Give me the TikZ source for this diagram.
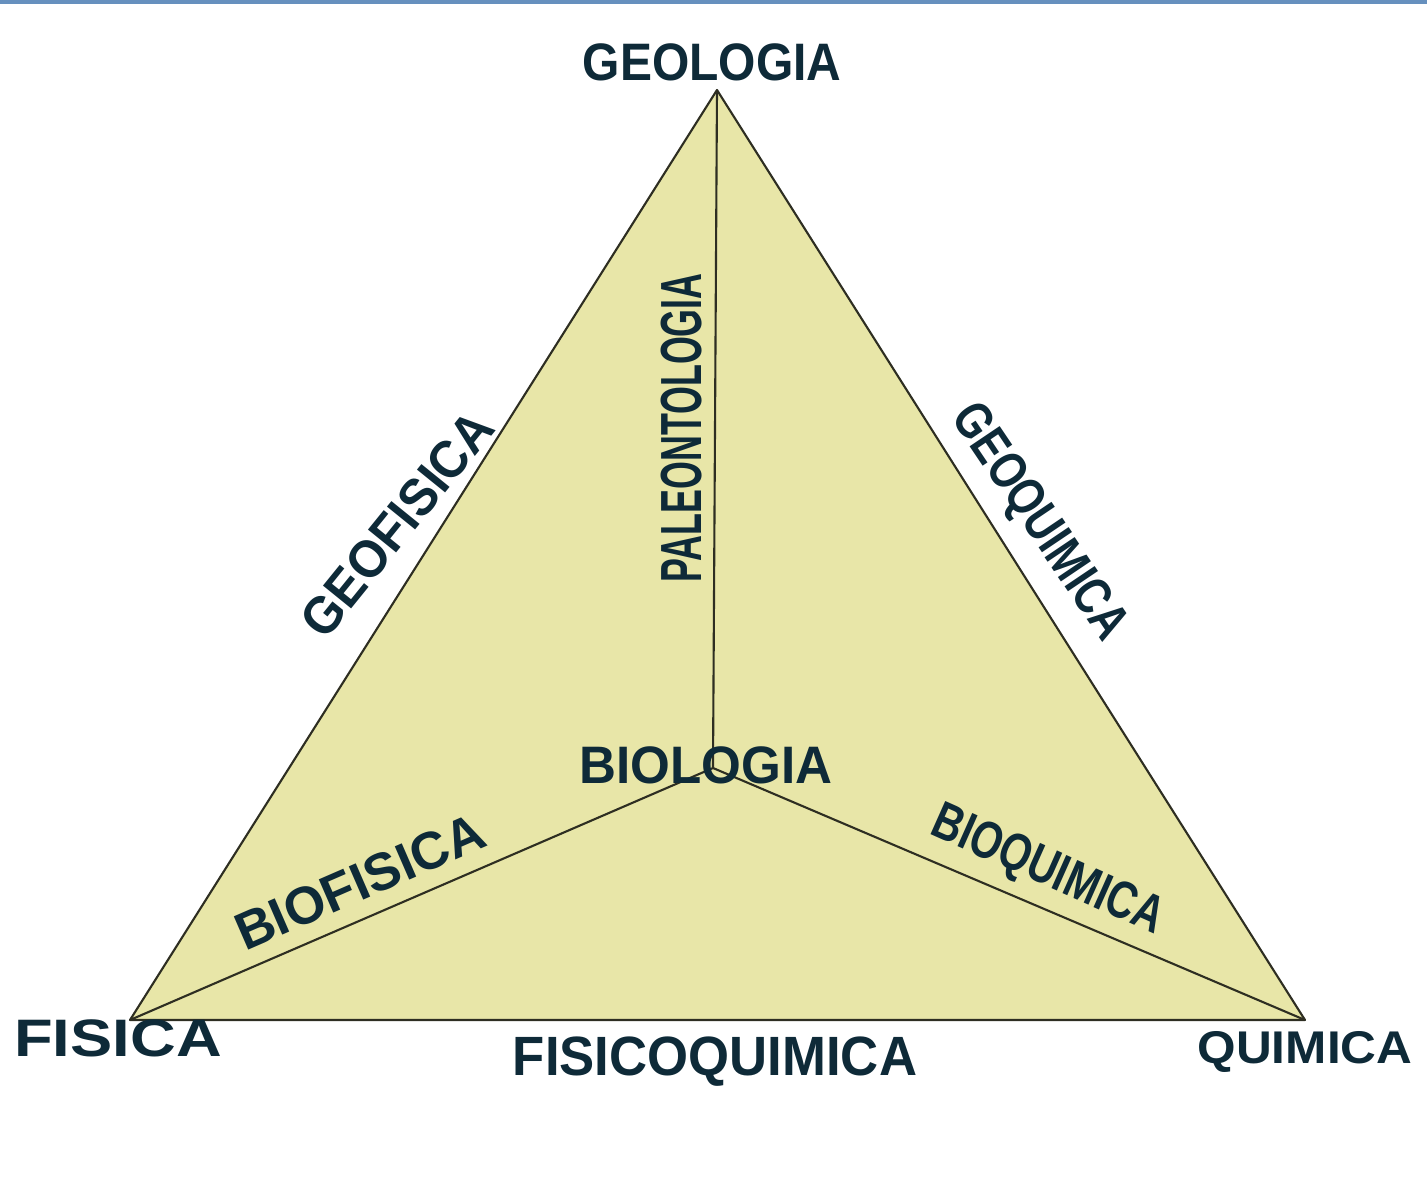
\documentclass[tikz,border=0pt]{standalone}
\usepackage{fontspec}
\setmainfont{Liberation Sans}
\usepackage{graphicx}
\definecolor{barblue}{HTML}{6690BE}
\definecolor{paleyellow}{HTML}{E8E6A8}
\definecolor{inkblue}{HTML}{0E2A38}
\definecolor{edgegray}{HTML}{2E2E22}
\tikzset{
  lbl/.style={text=inkblue, inner sep=0pt, font=\fontsize{15}{18}\selectfont\bfseries},
  edge/.style={draw=edgegray, line width=0.6pt, line join=round}
}
\begin{document}
\begin{tikzpicture}[x=0.1mm, y=-0.1mm]
  \useasboundingbox (0,0) rectangle (1427,1194);
  \fill[barblue] (0,0) rectangle (1427,4);
  % corners and the centre
  \coordinate (geo) at (717,90);
  \coordinate (fis) at (130,1020);
  \coordinate (qui) at (1305,1020);
  \coordinate (bio) at (713,768);
  \fill[paleyellow] (geo) -- (fis) -- (qui) -- cycle;
  \draw[edge] (geo) -- (fis) -- (qui) -- cycle;
  \draw[edge] (geo) -- (bio);
  \draw[edge] (fis) -- (bio);
  \draw[edge] (qui) -- (bio);
  % labels
  \node[lbl,anchor=base] (geolabel) at (712,80) {\scalebox{0.91}[1]{GEOLOGIA}};
  \node[lbl,anchor=base] (fislabel) at (118,1056) {\scalebox{1.2}[1]{FISICA}};
  \node[lbl,anchor=base] (quilabel) at (1305,1063) {\scalebox{0.94}[0.87]{QUIMICA}};
  \node[lbl,anchor=base] (fqlabel) at (715,1075) {\scalebox{1}[1.05]{FISICOQUIMICA}};
  \node[lbl,anchor=base] (biolabel) at (706,783) {\scalebox{0.97}[1]{BIOLOGIA}};
  \node[lbl,rotate=51] (gflabel) at (397,524) {\scalebox{0.94}[1]{GEOFISICA}};
  \node[lbl,rotate=90] (palabel) at (682,428) {\scalebox{0.68}[1.1]{PALEONTOLOGIA}};
  \node[lbl,rotate=-56] (gqlabel) at (1038,523) {\scalebox{0.79}[1]{GEOQUIMICA}};
  \node[lbl,rotate=23.5] (bflabel) at (360,882) {BIOFISICA};
  \node[lbl,rotate=-24] (bqlabel) at (1047,872) {\scalebox{0.77}[1]{BIOQUIMICA}};
\end{tikzpicture}
\end{document}
